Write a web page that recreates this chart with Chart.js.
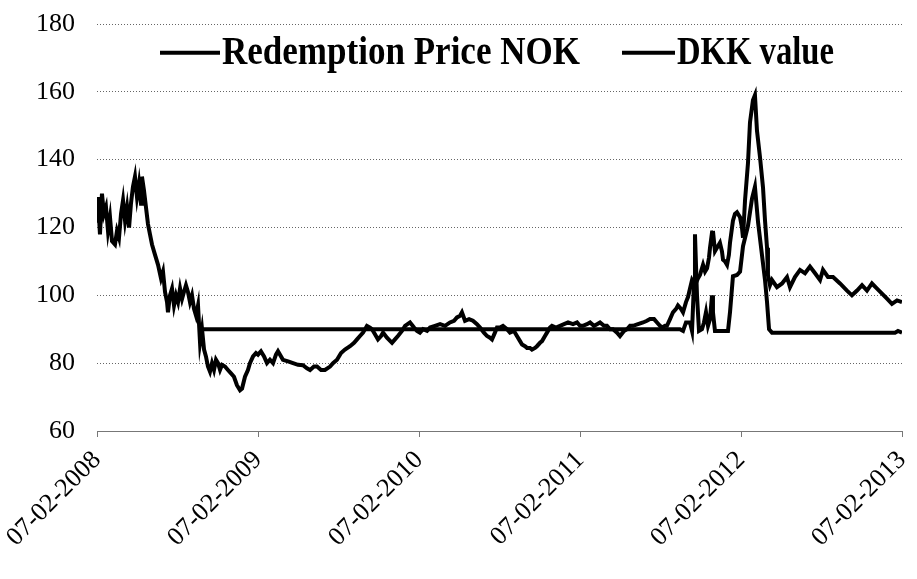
<!DOCTYPE html>
<html>
<head>
<meta charset="utf-8">
<script src="https://cdn.jsdelivr.net/npm/chart.js@4.4.1/dist/chart.umd.min.js"></script>
<style>
  body { margin: 0; background: #fff; }
  #chart { display: block; }
</style>
</head>
<body>
<canvas id="chart" width="917" height="579"></canvas>
<script>
// months since 07-02-2008
const tickMonths = [0, 12, 24, 36, 48, 60];
const tickLabels = ["07-02-2008", "07-02-2009", "07-02-2010", "07-02-2011", "07-02-2012", "07-02-2013"];
const yTicks = [60, 80, 100, 120, 140, 160, 180];

const nokMonths = [
  0, 0.07, 0.22, 0.37, 0.52, 0.67, 0.82, 0.97, 1.12, 1.34, 1.49, 1.64, 1.79, 1.94, 2.09, 2.24, 2.39, 2.53, 2.68, 2.83,
  2.98, 3.13, 3.28, 3.35, 3.50, 3.65, 3.80, 3.95, 4.10, 4.32, 4.55, 4.77, 4.92, 5.07, 5.22, 5.29, 5.44, 5.59, 5.74, 5.89,
  6.04, 6.19, 6.34, 6.48, 6.63, 6.78, 6.93, 7.08, 7.23, 7.38, 7.53, 7.68, 7.83, 7.98, 8.12, 8.27, 8.42, 8.57, 8.72, 8.87,
  9.02, 9.17, 9.32, 9.54, 9.76, 9.99, 10.21, 10.43, 10.66, 10.81, 11.03, 11.25, 11.40, 11.63, 11.85, 12.00, 12.22, 12.45, 12.67, 12.89,
  13.12, 13.34, 13.49, 13.86, 14.24, 14.61, 14.98, 15.35, 15.65, 15.88, 16.17, 16.40, 16.70, 16.99, 17.37, 17.59, 17.89, 18.19, 18.48, 18.86,
  19.16, 19.38, 19.60, 19.83, 20.12, 20.35, 20.50, 20.72, 20.94, 21.17, 21.32, 21.61, 21.99, 22.21, 22.43, 22.73, 22.96, 23.33, 23.63, 23.85,
  24.07, 24.30, 24.60, 24.82, 25.19, 25.57, 25.94, 26.31, 26.61, 26.83, 27.06, 27.20, 27.43, 27.73, 28.02, 28.32, 28.55, 28.84, 29.07, 29.29,
  29.44, 29.66, 29.81, 30.04, 30.26, 30.56, 30.78, 31.08, 31.30, 31.53, 31.68, 31.90, 32.05, 32.27, 32.42, 32.65, 32.79, 33.02, 33.17, 33.39,
  33.54, 33.76, 33.91, 34.21, 34.51, 34.81, 35.11, 35.48, 35.78, 36.00, 36.22, 36.52, 36.75, 37.04, 37.27, 37.49, 37.79, 38.01, 38.24, 38.46,
  38.76, 38.98, 39.28, 39.50, 39.73, 39.95, 40.32, 40.70, 40.99, 41.22, 41.52, 41.74, 41.96, 42.11, 42.34, 42.48, 42.71, 42.93, 43.16, 43.30,
  43.53, 43.68, 43.90, 44.05, 44.20, 44.35, 44.57, 44.79, 44.94, 45.17, 45.32, 45.47, 45.61, 45.69, 45.84, 45.91, 46.06, 46.21, 46.43, 46.58,
  46.66, 46.81, 46.96, 47.10, 47.18, 47.40, 47.55, 47.70, 47.93, 48.07, 48.15, 48.30, 48.52, 48.67, 48.89, 49.04, 49.19, 49.42, 49.64, 49.79,
  49.94, 50.01, 50.16, 50.31, 50.68, 51.06, 51.43, 51.65, 52.02, 52.40, 52.77, 53.14, 53.52, 53.89, 54.11, 54.48, 54.86, 55.38, 55.90, 56.27,
  56.65, 57.02, 57.39, 57.76, 58.14, 58.51, 58.88, 59.25, 59.63, 60.00
];
const nokValues = [
  122, 129, 118, 130, 124, 126, 119, 123, 116, 115, 119, 117, 124, 128, 122, 126, 120, 127, 132, 135,
  129, 133, 127, 135, 131, 126, 121, 118, 115, 112, 109, 105, 107, 101, 98, 95, 100, 102, 97, 100,
  98, 102, 99, 101, 103, 101, 98, 100, 96, 94, 97, 86, 90, 84, 82, 79, 77.5, 80, 78, 81,
  80, 78, 79.5, 79, 78, 77, 76, 73.5, 72, 72.5, 76, 78, 80, 82, 83, 82.5, 83.5, 82, 80, 81,
  80, 82.5, 83.5, 81, 80.5, 80, 79.5, 79.4, 78.5, 78, 79, 79, 78, 78, 79, 80, 81, 83, 84, 85,
  86, 87, 88, 89, 91, 90.5, 90, 88.5, 87, 88, 89, 87.5, 86, 87, 88, 89.5, 91, 92, 90.5, 89.5,
  89, 90, 89.5, 90.5, 91, 91.5, 91, 92, 92.5, 93.5, 94, 95, 92.5, 93, 92.5, 91.5, 90.5, 89, 88, 87.5,
  87, 89, 90.5, 90.5, 91, 90, 89, 89.5, 88, 86.5, 85.5, 85, 84.5, 84.5, 84, 84.5, 85, 86, 86.5, 88,
  89, 90.5, 91, 90.5, 91, 91.5, 92, 91.5, 92, 91, 91, 91.5, 92, 91, 91.5, 92, 91, 91, 90, 90,
  89, 88, 89.5, 90, 91, 91, 91.5, 92, 92.5, 93, 93, 92, 91, 90.5, 91, 91, 93, 95, 96, 97,
  96, 95, 98, 99.5, 102, 104.5, 103, 105, 106, 109, 107, 108, 111, 114, 118.5, 119, 113, 114, 115.5, 113,
  110.5, 110, 109, 112, 115.5, 122, 124, 124.5, 123, 120, 117, 128, 139, 151, 157.5, 159, 148.6, 140.6, 131.8, 122,
  114, 106, 103, 104.5, 102.4, 103.5, 105.4, 102.4, 105.4, 107.5, 106.5, 108.5, 106.5, 104.5, 107.5, 105.4, 105.4, 103.5, 101.4, 100,
  101.4, 103, 101.4, 103.5, 102, 100.5, 99, 97.5, 98.5, 98
];

const dkkMonths = [
  7.68, 43.45, 43.68, 43.90, 44.20, 44.35, 44.50, 44.57, 44.72, 44.87, 45.09, 45.24, 45.39, 45.54, 45.69, 45.84, 45.91, 46.06, 46.43, 47.03,
  47.18, 47.40, 47.70, 47.93, 48.15, 48.52, 48.82, 49.04, 49.27, 49.57, 49.79, 49.94, 50.09, 50.31, 59.48, 59.70, 60.00
];
const dkkValues = [
  90, 90, 89.5, 92, 92, 89.5, 104, 118, 100, 89.5, 90, 92, 95, 91, 93, 100, 95, 89.5, 89.5, 89.5,
  95, 105.6, 106, 107, 114.5, 120.5, 128.5, 132, 121.6, 111.7, 104.5, 98, 90, 89, 89, 89.5, 89
];

const seriesNames = ["Redemption Price NOK", "DKK value"];

function toPoints(xs, ys) {
  return xs.map((x, i) => ({ x: x, y: ys[i] }));
}

const serif = "'Liberation Serif', 'Times New Roman', serif";

// legend drawn inside the plot, between the 180 and 160 grid lines
const insideLegend = {
  id: "insideLegend",
  afterDraw(chart) {
    const ctx = chart.ctx;
    const y = chart.scales.y.getPixelForValue(171.5);
    const items = [
      { x1: 160, x2: 220, label: seriesNames[0], w: 358 },
      { x1: 622, x2: 675, label: seriesNames[1], w: 157 },
    ];
    ctx.save();
    ctx.font = "bold 40px " + serif;
    ctx.fillStyle = "#000";
    ctx.strokeStyle = "#000";
    ctx.lineWidth = 4;
    ctx.textBaseline = "middle";
    items.forEach((it) => {
      ctx.beginPath();
      ctx.moveTo(it.x1, y);
      ctx.lineTo(it.x2, y);
      ctx.stroke();
      // the source text is tall and narrow, so squeeze it sideways
      const sx = it.w / ctx.measureText(it.label).width;
      ctx.save();
      ctx.translate(it.x2 + 2, y + 1);
      ctx.scale(sx, 1);
      ctx.fillText(it.label, 0, 0);
      ctx.restore();
    });
    ctx.restore();
  },
};

new Chart(document.getElementById("chart"), {
  type: "line",
  data: {
    datasets: [
      {
        label: seriesNames[0],
        data: toPoints(nokMonths, nokValues),
        borderColor: "#000",
        borderWidth: 4,
        pointRadius: 0,
        tension: 0,
      },
      {
        label: seriesNames[1],
        data: toPoints(dkkMonths, dkkValues),
        borderColor: "#000",
        borderWidth: 4,
        pointRadius: 0,
        tension: 0,
      },
    ],
  },
  options: {
    responsive: false,
    animation: false,
    layout: { padding: { left: 0, right: 15, top: 24, bottom: 0 } },
    scales: {
      x: {
        type: "linear",
        min: 0,
        max: 60,
        afterBuildTicks: (scale) => {
          scale.ticks = tickMonths.map((v) => ({ value: v }));
        },
        afterFit: (scale) => {
          scale.height = 148;
          scale.paddingLeft = 0;
          scale.paddingRight = 0;
        },
        ticks: {
          callback: (v) => tickLabels[tickMonths.indexOf(v)],
          minRotation: 45,
          maxRotation: 45,
          color: "#000",
          font: { family: serif, size: 26 },
          padding: 8,
        },
        grid: {
          drawOnChartArea: false,
          drawTicks: true,
          tickLength: 6,
          color: "#777",
        },
        border: { display: true, color: "#777", width: 1 },
      },
      y: {
        min: 60,
        max: 180,
        afterBuildTicks: (scale) => {
          scale.ticks = yTicks.map((v) => ({ value: v }));
        },
        afterFit: (scale) => {
          scale.width = 97;
          scale.paddingTop = 0;
          scale.paddingBottom = 0;
        },
        ticks: {
          color: "#000",
          font: { family: serif, size: 26 },
          padding: 22,
        },
        grid: {
          drawTicks: false,
          color: "#666",
          lineWidth: 1,
        },
        border: { display: false, dash: [1, 2] },
      },
    },
    plugins: {
      legend: { display: false },
      tooltip: { enabled: false },
    },
  },
  plugins: [insideLegend],
});
</script>
</body>
</html>
